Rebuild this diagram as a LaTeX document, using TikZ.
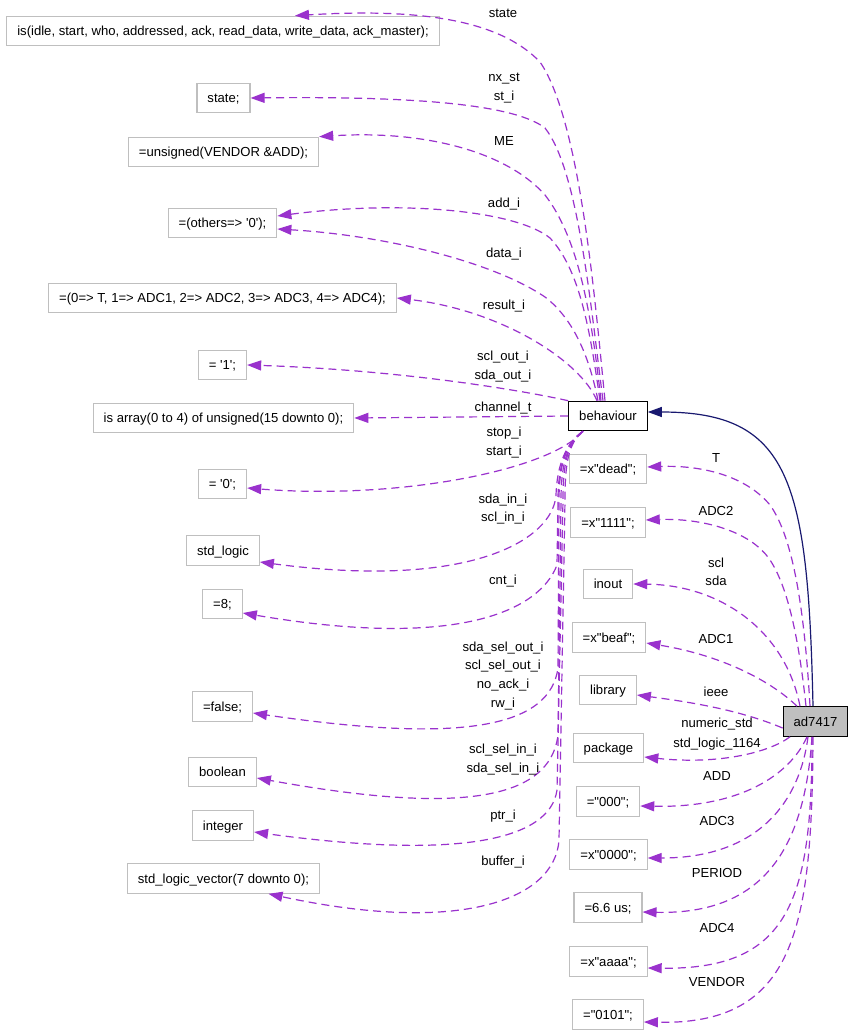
\documentclass[tikz,border=0pt]{standalone}
\usepackage{fontspec}
\setmainfont{Liberation Sans}
\usetikzlibrary{arrows.meta}
\definecolor{dep}{HTML}{9A32CD}
\definecolor{navyline}{HTML}{191970}
\definecolor{gborder}{HTML}{BFBFBF}
\newcommand{\q}{\textquotesingle}
\newcommand{\dq}{\textquotedbl}
\begin{document}
\begin{tikzpicture}[x=1pt,y=-1pt,
  box/.style={draw=gborder, line width=1.1pt, minimum height=29.5pt, inner xsep=10.5pt, inner ysep=0pt,
    font=\fontsize{13.1}{15}\selectfont, text height=9.3pt, text depth=0pt},
  mainbox/.style={box, draw=black},
  rootbox/.style={box, draw=black, fill=gborder},
  lbl/.style={inner sep=0pt, font=\fontsize{13.1}{15}\selectfont, text height=9.3pt, text depth=0pt},
  depedge/.style={draw=dep, line width=1.2pt, dash pattern=on 8pt off 5pt, -{Triangle[length=14pt,width=10pt]}},
  inhedge/.style={draw=navyline, line width=1.2pt, -{Triangle[length=14pt,width=10pt]}}]
\fill[white] (0,0) rectangle (853,1035);
\useasboundingbox (0,0) rectangle (853,1035);

% left column
\node[box] (n1) at (223,31) {is(idle, start, who, addressed, ack, read\_data, write\_data, ack\_master);};
\node[box] (n2) at (223.5,98) {state;};
\node[box] (n3) at (223.5,152) {=unsigned(VENDOR \&ADD);};
\node[box] (n4) at (222.5,223) {=(others=> \q0\q);};
\node[box] (n5) at (222.5,298) {=(0=> T, 1=> ADC1, 2=> ADC2, 3=> ADC3, 4=> ADC4);};
\node[box] (n6) at (222.5,365) {= \q1\q;};
\node[box] (n7) at (223.5,418) {is array(0 to 4) of unsigned(15 downto 0);};
\node[box] (n8) at (222.5,484) {= \q0\q;};
\node[box] (n9) at (223,550.5) {std\_logic};
\node[box] (n10) at (222.5,604) {=8;};
\node[box] (n11) at (222.5,706.5) {=false;};
\node[box] (n12) at (222.5,772) {boolean};
\node[box] (n13) at (223,825.5) {integer};
\node[box] (n14) at (223.5,878.5) {std\_logic\_vector(7 downto 0);};

% right column
\node[mainbox] (beh) at (608,416) {behaviour};
\node[box] (r1) at (608,469) {=x\dq dead\dq;};
\node[box] (r2) at (608,522.5) {=x\dq 1111\dq;};
\node[box] (r3) at (608,584) {inout};
\node[box] (r4) at (609,637.5) {=x\dq beaf\dq;};
\node[box] (r5) at (608,690) {library};
\node[box] (r6) at (608.5,748) {package};
\node[box] (r7) at (608,801.5) {=\dq 000\dq;};
\node[box] (r8) at (608.5,854.5) {=x\dq 0000\dq;};
\node[box] (r9) at (608,907.5) {=6.6 us;};
\node[box] (r10) at (608.5,961.5) {=x\dq aaaa\dq;};
\node[box] (r11) at (608,1014.5) {=\dq 0101\dq;};
\node[rootbox] (ad) at (815.5,721.5) {ad7417};

% behaviour -> left column (top)
\draw[depedge] ([xshift=-3pt]beh.north) .. controls (595,300) and (580,120) .. (540,62) .. controls (500,20) and (420,8) .. ([xshift=72pt]n1.north);
\draw[depedge] ([xshift=-5pt]beh.north) .. controls (590,300) and (578,170) .. (545,128) .. controls (515,105) and (420,96) .. (n2.east);
\draw[depedge] ([xshift=-7pt]beh.north) .. controls (592,320) and (580,240) .. (545,195) .. controls (505,150) and (420,130) .. (n3.north east);
\draw[depedge] ([xshift=-8pt]beh.north) .. controls (590,330) and (580,270) .. (550,238) .. controls (515,210) and (400,200) .. ([yshift=7pt]n4.east);
\draw[depedge] ([xshift=-10pt]beh.north) .. controls (590,360) and (575,320) .. (545,297) .. controls (490,260) and (380,235) .. ([yshift=-6pt]n4.east);
\draw[depedge] ([xshift=-11pt]beh.north) .. controls (580,360) and (500,310) .. (n5.east);
\draw[depedge] (beh.north west) .. controls (520,390) and (400,370) .. (n6.east);
\draw[depedge] (beh.west) -- (n7.east);

% behaviour -> left column (bottom)
\draw[depedge] ([xshift=-25pt]beh.south) .. controls (550,470) and (400,500) .. ([yshift=-4pt]n8.east);
\draw[depedge] ([xshift=-25pt]beh.south) .. controls (566,443) and (557,465) .. (556,495) .. controls (553,540) and (470,590) .. ([yshift=-11.5pt]n9.east);
\draw[depedge] ([xshift=-25pt]beh.south) .. controls (566,443) and (558,465) .. (558,500) -- (557,565) .. controls (540,610) and (460,650) .. ([yshift=-9pt]n10.east);
\draw[depedge] ([xshift=-25pt]beh.south) .. controls (566,443) and (559,465) .. (559,500) -- (558,668) .. controls (550,725) and (470,745) .. ([yshift=-6.5pt]n11.east);
\draw[depedge] ([xshift=-25pt]beh.south) .. controls (567,443) and (561,465) .. (561,500) -- (558,735) .. controls (550,800) and (460,815) .. ([yshift=-6pt]n12.east);
\draw[depedge] ([xshift=-25pt]beh.south) .. controls (567,443) and (563,465) .. (563,500) -- (557,790) .. controls (550,840) and (460,860) .. ([yshift=-6.5pt]n13.east);
\draw[depedge] ([xshift=-25pt]beh.south) .. controls (568,443) and (565,465) .. (565,500) -- (559,840) .. controls (555,900) and (460,935) .. ([xshift=45pt]n14.south);

% ad7417 -> right column
\draw[inhedge] ([xshift=-2.5pt]ad.north) .. controls (808,480) and (790,412) .. ([yshift=4pt]beh.east);
\draw[depedge] ([xshift=-5.5pt]ad.north) .. controls (805,620) and (795,540) .. (770,505) .. controls (745,475) and (700,465) .. ([yshift=2pt]r1.east);
\draw[depedge] ([xshift=-9.5pt]ad.north) .. controls (800,650) and (790,590) .. (770,560) .. controls (750,530) and (700,518) .. ([yshift=2.5pt]r2.east);
\draw[depedge] ([xshift=-15.5pt]ad.north) .. controls (785,630) and (720,585) .. (r3.east);
\draw[depedge] ([xshift=-18.5pt]ad.north) .. controls (770,680) and (720,655) .. ([yshift=-5.5pt]r4.east);
\draw[depedge] ([yshift=-6.5pt]ad.west) .. controls (740,710) and (690,702) .. ([yshift=-5pt]r5.east);
\draw[depedge] ([xshift=-25.5pt]ad.south) .. controls (770,752) and (720,765) .. ([yshift=-9pt]r6.east);
\draw[depedge] ([xshift=-8.5pt]ad.south) .. controls (790,775) and (740,808) .. ([yshift=-4.5pt]r7.east);
\draw[depedge] ([xshift=-7.5pt]ad.south) .. controls (800,800) and (760,858) .. ([yshift=-3.5pt]r8.east);
\draw[depedge] ([xshift=-3.5pt]ad.south) .. controls (805,840) and (770,915) .. ([yshift=-4.5pt]r9.east);
\draw[depedge] ([xshift=-3.5pt]ad.south) .. controls (812,900) and (790,970) .. ([yshift=-6.5pt]r10.east);
\draw[depedge] ([xshift=-2.5pt]ad.south) .. controls (812,930) and (795,1025) .. ([yshift=-7.5pt]r11.east);

% labels left
\node[lbl] (l1) at (503,13) {state};
\node[lbl] (l2) at (504,77) {nx\_st};
\node[lbl] (l3) at (504,96) {st\_i};
\node[lbl] (l4) at (504,141) {ME};
\node[lbl] (l5) at (504,203) {add\_i};
\node[lbl] (l6) at (504,253) {data\_i};
\node[lbl] (l7) at (504,305) {result\_i};
\node[lbl] (l8) at (503,356) {scl\_out\_i};
\node[lbl] (l9) at (503,375) {sda\_out\_i};
\node[lbl] (l10) at (503,407) {channel\_t};
\node[lbl] (l11) at (504,432) {stop\_i};
\node[lbl] (l12) at (504,451) {start\_i};
\node[lbl] (l13) at (503,499) {sda\_in\_i};
\node[lbl] (l14) at (503,517) {scl\_in\_i};
\node[lbl] (l15) at (503,580) {cnt\_i};
\node[lbl] (l16) at (503,647) {sda\_sel\_out\_i};
\node[lbl] (l17) at (503,665) {scl\_sel\_out\_i};
\node[lbl] (l18) at (503,684) {no\_ack\_i};
\node[lbl] (l19) at (503,703) {rw\_i};
\node[lbl] (l20) at (503,749) {scl\_sel\_in\_i};
\node[lbl] (l21) at (503,768) {sda\_sel\_in\_i};
\node[lbl] (l22) at (503,815) {ptr\_i};
\node[lbl] (l23) at (503,861) {buffer\_i};

% labels right
\node[lbl] (m1) at (716,458) {T};
\node[lbl] (m2) at (716,511) {ADC2};
\node[lbl] (m3) at (716,563) {scl};
\node[lbl] (m4) at (716,581) {sda};
\node[lbl] (m5) at (716,639) {ADC1};
\node[lbl] (m6) at (716,692) {ieee};
\node[lbl] (m7) at (717,723) {numeric\_std};
\node[lbl] (m8) at (717,743) {std\_logic\_1164};
\node[lbl] (m9) at (717,776) {ADD};
\node[lbl] (m10) at (717,821) {ADC3};
\node[lbl] (m11) at (717,873) {PERIOD};
\node[lbl] (m12) at (717,928) {ADC4};
\node[lbl] (m13) at (717,982) {VENDOR};
\end{tikzpicture}
\end{document}
